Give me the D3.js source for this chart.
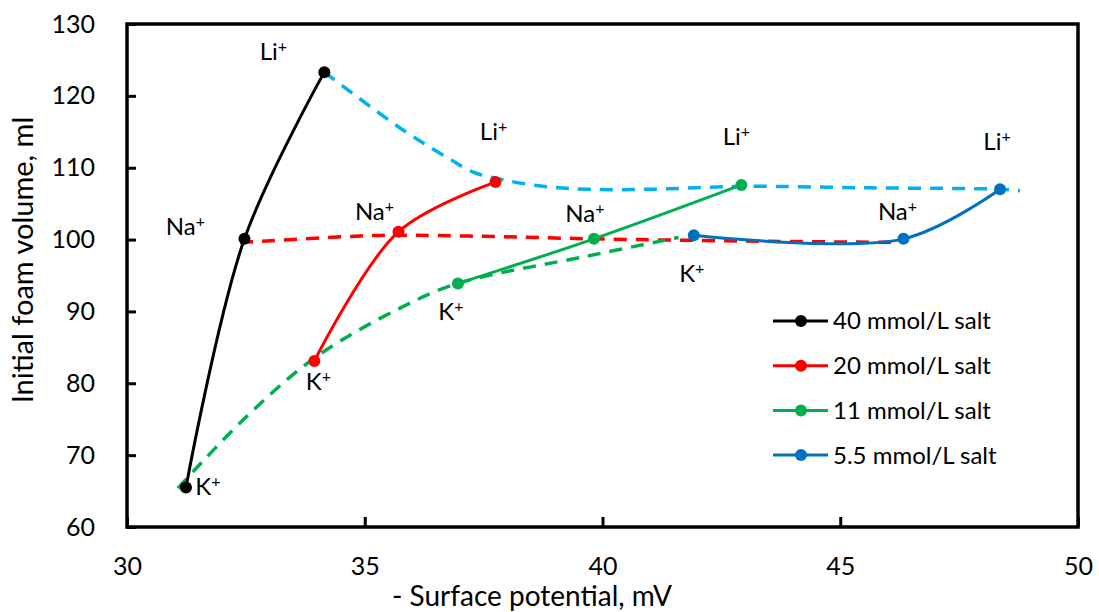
<!DOCTYPE html>
<html>
<head>
<meta charset="utf-8">
<script src="https://cdn.jsdelivr.net/npm/d3@7"></script>
<style>
  body { margin: 0; background: #fff; }
  text { font-family: Lato, "Open Sans", sans-serif; fill: #000; }
</style>
</head>
<body>
<svg class="chart" width="1099" height="612"></svg>
<script>
// ---- data ----
const ions = ['K', 'Na', 'Li'];
const seriesNames = ['40 mmol/L salt', '20 mmol/L salt', '11 mmol/L salt', '5.5 mmol/L salt'];

// surface potential (-mV) and initial foam volume (ml), ordered K, Na, Li
const potential40 = [31.24, 32.47, 34.15];
const foam40 = [65.5, 100.1, 123.3];
const potential20 = [33.94, 35.71, 37.75];
const foam20 = [83.1, 101.1, 108.0];
const potential11 = [36.96, 39.82, 42.92];
const foam11 = [93.9, 100.1, 107.6];
const potential55 = [41.92, 46.33, 48.36];
const foam55 = [100.6, 100.1, 107.0];

// dashed guide lines joining the same cation across concentrations
const liGuideX = [34.15, 35.75, 36.74, 37.28, 37.85, 38.7, 39.68, 41.0, 42.92, 45.64, 48.38, 48.78];
const liGuideY = [123.3, 115.5, 111.4, 109.4, 108.4, 107.45, 107.0, 107.0, 107.4, 107.2, 107.0, 106.8];
const naGuideX = [32.38, 34.9, 35.71, 37.5, 39.82, 43.0, 46.27];
const naGuideY = [99.6, 100.5, 100.6, 100.45, 100.1, 99.8, 99.6];
const kGuideX = [31.07, 32.44, 33.94, 35.75, 36.96, 39.68, 41.6];
const kGuideY = [65.4, 74.9, 83.5, 90.5, 93.9, 97.7, 100.3];

const xTicks = [30, 35, 40, 45, 50];
const yTicks = [60, 70, 80, 90, 100, 110, 120, 130];

// ---- layout ----
const colors = ['#000000', '#FF0000', '#00B050', '#0070C0'];
const guideColors = { Li: '#00B0F0', Na: '#FF0000', K: '#00B050' };

// label offsets (px) from each marker, [K, Na, Li]
const labelOffsets = [
  [[22, 8], [-59, -4], [-51, -12]],
  [[4, 29], [-24, -12], [-2, -42]],
  [[-7, 37], [-9, -17], [-5, -40]],
  [[-2, 47], [-6, -19], [-3, -39]],
];

const svg = d3.select('.chart');

const x = d3.scaleLinear().domain([30, 50]).range([127, 1078]);
const y = d3.scaleLinear().domain([60, 130]).range([527, 24]);

const series = [
  { xs: potential40, ys: foam40 },
  { xs: potential20, ys: foam20 },
  { xs: potential11, ys: foam11 },
  { xs: potential55, ys: foam55 },
].map((s, i) => ({
  name: seriesNames[i],
  color: colors[i],
  points: s.xs.map((v, j) => ({ x: v, y: s.ys[j], ion: ions[j] })),
  offsets: labelOffsets[i],
}));

const guides = [
  { ion: 'Li', xs: liGuideX, ys: liGuideY },
  { ion: 'Na', xs: naGuideX, ys: naGuideY },
  { ion: 'K', xs: kGuideX, ys: kGuideY },
].map((g) => ({ color: guideColors[g.ion], points: g.xs.map((v, j) => ({ x: v, y: g.ys[j] })) }));

const line = d3
  .line()
  .x((d) => x(d.x))
  .y((d) => y(d.y))
  .curve(d3.curveCatmullRom.alpha(0.5));

// axes, ticks pointing inward
const xAxis = svg
  .append('g')
  .attr('transform', 'translate(0,527)')
  .call(d3.axisBottom(x).tickValues(xTicks).tickSizeInner(-10).tickSizeOuter(0).tickPadding(30));
const yAxis = svg
  .append('g')
  .attr('transform', 'translate(127,0)')
  .call(d3.axisLeft(y).tickValues(yTicks).tickSizeInner(-9).tickSizeOuter(0).tickPadding(32));

[xAxis, yAxis].forEach((a) => {
  a.select('.domain').remove();
  a.selectAll('line').attr('stroke', '#000').attr('stroke-width', 3);
  a.selectAll('text').style('font-size', '25px').attr('fill', '#000');
});

// plot frame
svg
  .append('rect')
  .attr('x', 127)
  .attr('y', 24)
  .attr('width', 1078 - 127)
  .attr('height', 527 - 24)
  .attr('fill', 'none')
  .attr('stroke', '#000')
  .attr('stroke-width', 3.5);

// axis titles
svg
  .append('text')
  .attr('x', 532)
  .attr('y', 606)
  .attr('text-anchor', 'middle')
  .style('font-size', '28px')
  .text('- Surface potential, mV');

svg
  .append('text')
  .attr('transform', 'translate(33,260) rotate(-90)')
  .attr('text-anchor', 'middle')
  .style('font-size', '29px')
  .text('Initial foam volume, ml');

// dashed guides (under the series)
svg
  .selectAll('.guide')
  .data(guides)
  .enter()
  .append('path')
  .attr('class', 'guide')
  .attr('d', (d) => line(d.points))
  .attr('fill', 'none')
  .attr('stroke', (d) => d.color)
  .attr('stroke-width', 3.5)
  .attr('stroke-dasharray', '13,9');

// series lines
const groups = svg
  .selectAll('.series')
  .data(series)
  .enter()
  .append('g')
  .attr('class', 'series');

groups
  .append('path')
  .attr('d', (d) => line(d.points))
  .attr('fill', 'none')
  .attr('stroke', (d) => d.color)
  .attr('stroke-width', 3);

groups
  .selectAll('circle')
  .data((d) => d.points.map((p) => ({ ...p, color: d.color })))
  .enter()
  .append('circle')
  .attr('cx', (d) => x(d.x))
  .attr('cy', (d) => y(d.y))
  .attr('r', 6)
  .attr('fill', (d) => d.color);

// cation labels
groups.each(function (s) {
  const labels = d3
    .select(this)
    .selectAll('.ion')
    .data(s.points)
    .enter()
    .append('text')
    .attr('class', 'ion')
    .attr('x', (d, i) => x(d.x) + s.offsets[i][0])
    .attr('y', (d, i) => y(d.y) + s.offsets[i][1])
    .attr('text-anchor', 'middle')
    .style('font-size', '24px');
  labels.append('tspan').text((d) => d.ion);
  labels
    .append('tspan')
    .attr('dy', -8)
    .style('font-size', '16px')
    .text('+');
});

// legend
const legend = svg
  .selectAll('.legend')
  .data(series)
  .enter()
  .append('g')
  .attr('class', 'legend')
  .attr('transform', (d, i) => `translate(773,${321 + i * 44.7})`);

legend
  .append('line')
  .attr('x1', 0)
  .attr('x2', 55)
  .attr('stroke', (d) => d.color)
  .attr('stroke-width', 3);
legend
  .append('circle')
  .attr('cx', 28)
  .attr('r', 6)
  .attr('fill', (d) => d.color);
legend
  .append('text')
  .attr('x', 60)
  .attr('dy', '0.35em')
  .style('font-size', '24px')
  .text((d) => d.name);
</script>
</body>
</html>
